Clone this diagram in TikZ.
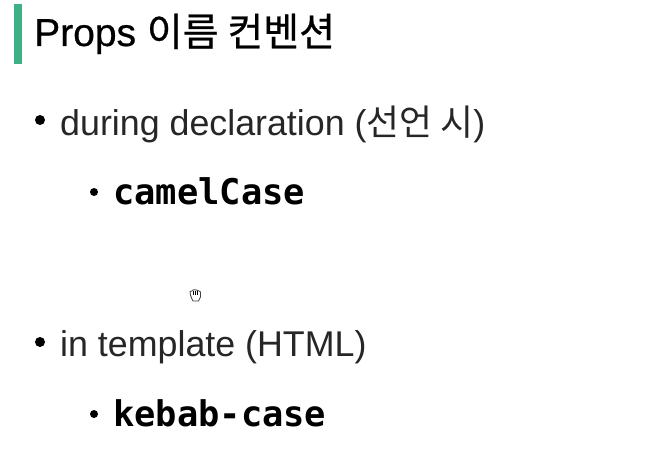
\documentclass[tikz,border=0pt]{standalone}
\usepackage{fontspec}
\setmainfont{Liberation Sans}
\newfontfamily\hangul{Noto Sans CJK KR}
\newfontfamily\hangulmed{Noto Sans CJK KR}[FakeBold=0.6]
\newfontfamily\titlefont{Liberation Sans}[FakeBold=0.6]
\newfontfamily\codefont{DejaVu Sans Mono}[BoldFont={DejaVu Sans Mono Bold}]
\usetikzlibrary{positioning}
\definecolor{accentgreen}{HTML}{3FAF85}
\tikzset{
  titletext/.style={anchor=base west, inner sep=0pt, font=\titlefont\fontsize{39}{39}\selectfont},
  itemtext/.style={anchor=base west, inner sep=0pt, text=black!85, font=\fontsize{35.8}{36}\selectfont},
  codetext/.style={anchor=base west, inner sep=0pt, font=\codefont\bfseries\fontsize{35.4}{35.4}\selectfont},
  dotmark/.style={circle, fill=black, inner sep=0pt, minimum size=10pt},
  smalldot/.style={dotmark, minimum size=8pt}
}
\begin{document}
\begin{tikzpicture}[x=1pt,y=-1pt]
\useasboundingbox (0,0) rectangle (669,460);
\fill[accentgreen] (14,4) rectangle (22,64);
\node[titletext] (title) at (34,46) {Props {\hangulmed 이름 컨벤션}};
% first item
\node[dotmark] (dotA) at (40,120) {};
\node[itemtext] (during) at (60,135) {during declaration ({\hangul 선언 시})};
\node[smalldot] (dotB) at (94,192) {};
\node[codetext] (camel) at (113,204) {camelCase};
% second item
\node[dotmark] (dotC) at (40,342) {};
\node[itemtext] (tmpl) at (60,356) {in template (HTML)};
\node[smalldot] (dotD) at (94,414) {};
\node[codetext] (kebab) at (113,426) {kebab-case};
% cursor
\filldraw[fill=white, draw=black!75, line width=0.8pt, line join=round]
  (190.5,295) -- (190,291.5) -- (192,291) -- (192.5,290) -- (195,289.8) -- (197,290.2) -- (199,291) -- (200.5,292)
  -- (200.5,297) -- (198.5,301) -- (193,301) -- (191.5,298) -- cycle;
\foreach \x in {193,195,197}
  \draw[black, line width=0.9pt] (\x,291) -- (\x,295);
\end{tikzpicture}
\end{document}
